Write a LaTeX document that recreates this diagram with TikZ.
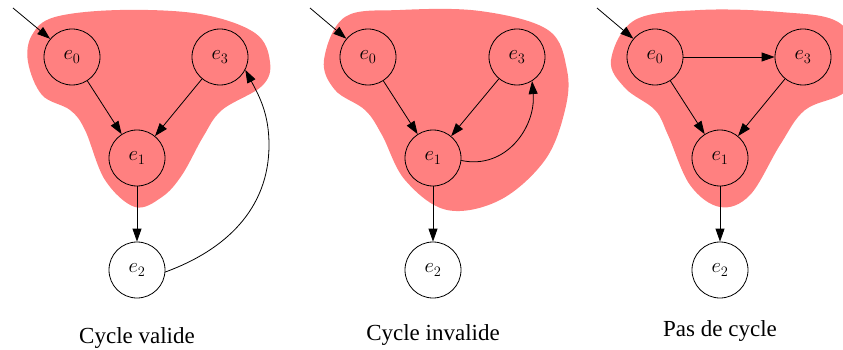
\documentclass[tikz,border=0pt]{standalone}
\usepackage{fontspec}
\setmainfont{Liberation Serif}
\usetikzlibrary{arrows.meta}
\definecolor{blobred}{RGB}{255,128,128}
\tikzset{
  state/.style={circle, draw, line width=0.8pt, minimum size=56pt, inner sep=0pt,
    font=\fontsize{20}{24}\selectfont},
  trans/.style={line width=0.8pt, -{Triangle[length=13pt,width=9pt]}},
  blob/.style={fill=blobred, draw=none},
  caption/.style={anchor=base, font=\fontsize{23}{27}\selectfont},
}
\begin{document}
\begin{tikzpicture}[x=1pt, y=-1pt]
\useasboundingbox (0,0) rectangle (843,350);
\clip (0,0) rectangle (843,350);

% ---- highlighted regions ----
\fill[blob] plot[smooth cycle, tension=0.6] coordinates {
  (28,62) (42,95) (70,110) (85,130) (105,180) (135,207) (162,197) (182,175)
  (203,137) (222,110) (262,86) (270,62) (255,33) (200,14) (120,10) (55,17) (32,35)};
\fill[blob] plot[smooth cycle, tension=0.6] coordinates {
  (324,60) (335,90) (365,110) (382,135) (405,180) (447,210) (500,200) (545,160)
  (565,110) (567,70) (548,30) (480,11) (400,10) (345,17)};
\fill[blob] plot[smooth cycle, tension=0.6] coordinates {
  (611,60) (625,88) (655,110) (668,135) (690,185) (720,207) (750,195) (780,145)
  (805,110) (845,92) (860,60) (838,22) (780,12) (700,10) (635,20)};

% ---- Cycle valide ----
\node[state] (a0) at (72,57)  {$e_0$};
\node[state] (a3) at (220,57) {$e_3$};
\node[state] (a1) at (137,158) {$e_1$};
\node[state] (a2) at (137,270) {$e_2$};
\coordinate (ain) at (13,8);
\coordinate (abend) at (269,145);
\draw[trans] (ain) -- (a0);
\draw[trans] (a0) -- (a1);
\draw[trans] (a3) -- (a1);
\draw[trans] (a1) -- (a2);
\draw[trans] (a2.-4) to[out=20, in=-90] (abend) to[out=90, in=-62] (a3.-27);
\node[caption] (acap) at (137,343) {Cycle valide};

% ---- Cycle invalide ----
\node[state] (b0) at (368,57)  {$e_0$};
\node[state] (b3) at (517,57)  {$e_3$};
\node[state] (b1) at (433,158) {$e_1$};
\node[state] (b2) at (433,270) {$e_2$};
\coordinate (bin) at (310,8);
\draw[trans] (bin) -- (b0);
\draw[trans] (b0) -- (b1);
\draw[trans] (b3) -- (b1);
\draw[trans] (b1) -- (b2);
\draw[trans] (b1.-5) to[out=-12, in=-85, looseness=1.1] (b3.-58);
\node[caption] (bcap) at (433,340) {Cycle invalide};

% ---- Pas de cycle ----
\node[state] (c0) at (655,57)  {$e_0$};
\node[state] (c3) at (803,57)  {$e_3$};
\node[state] (c1) at (720,158) {$e_1$};
\node[state] (c2) at (720,270) {$e_2$};
\coordinate (cin) at (597,8);
\draw[trans] (cin) -- (c0);
\draw[trans] (c0) -- (c3);
\draw[trans] (c0) -- (c1);
\draw[trans] (c3) -- (c1);
\draw[trans] (c1) -- (c2);
\node[caption] (ccap) at (720,336) {Pas de cycle};
\end{tikzpicture}
\end{document}
